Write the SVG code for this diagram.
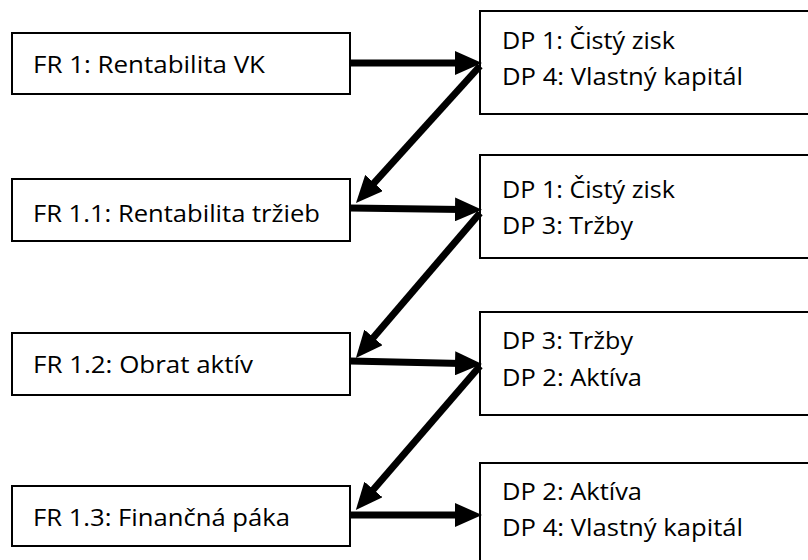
<svg xmlns="http://www.w3.org/2000/svg" width="808" height="560" viewBox="0 0 808 560">
  <style>
    .box { fill: #ffffff; stroke: #000000; stroke-width: 2; }
    .lbl { font-family: "Open Sans", "Lato", "Liberation Sans", sans-serif; font-size: 23px; fill: #000000; }
    .wire { stroke: #000000; stroke-width: 7; fill: none; marker-end: url(#head); }
  </style>
  <defs>
    <marker id="head" markerUnits="userSpaceOnUse" viewBox="0 0 27 24" markerWidth="27" markerHeight="24" refX="7" refY="12" orient="auto">
      <path d="M0,0 L27,12 L0,24 Z" fill="#000000"/>
    </marker>
  </defs>
  <rect width="808" height="560" fill="#ffffff"/>

  <!-- functional requirements (left column) -->
  <g id="fr1">
    <rect class="box" x="12" y="33" width="338" height="61"/>
    <text class="lbl" x="33" y="73" textLength="232" lengthAdjust="spacingAndGlyphs">FR 1: Rentabilita VK</text>
  </g>
  <g id="fr1-1">
    <rect class="box" x="12" y="179" width="338" height="62"/>
    <text class="lbl" x="33" y="222" textLength="287" lengthAdjust="spacingAndGlyphs">FR 1.1: Rentabilita tržieb</text>
  </g>
  <g id="fr1-2">
    <rect class="box" x="12" y="333" width="338" height="62"/>
    <text class="lbl" x="33" y="373" textLength="220" lengthAdjust="spacingAndGlyphs">FR 1.2: Obrat aktív</text>
  </g>
  <g id="fr1-3">
    <rect class="box" x="12" y="486" width="338" height="60"/>
    <text class="lbl" x="33" y="526" textLength="257" lengthAdjust="spacingAndGlyphs">FR 1.3: Finančná páka</text>
  </g>

  <!-- design parameters (right column) -->
  <g id="dp-a">
    <rect class="box" x="480" y="11" width="340" height="103"/>
    <text class="lbl" x="502" y="49" textLength="173" lengthAdjust="spacingAndGlyphs">DP 1: Čistý zisk</text>
    <text class="lbl" x="502" y="85" textLength="241" lengthAdjust="spacingAndGlyphs">DP 4: Vlastný kapitál</text>
  </g>
  <g id="dp-b">
    <rect class="box" x="480" y="155" width="340" height="103"/>
    <text class="lbl" x="502" y="198" textLength="173" lengthAdjust="spacingAndGlyphs">DP 1: Čistý zisk</text>
    <text class="lbl" x="502" y="234" textLength="131" lengthAdjust="spacingAndGlyphs">DP 3: Tržby</text>
  </g>
  <g id="dp-c">
    <rect class="box" x="480" y="312" width="340" height="103"/>
    <text class="lbl" x="502" y="349" textLength="131" lengthAdjust="spacingAndGlyphs">DP 3: Tržby</text>
    <text class="lbl" x="502" y="386" textLength="140" lengthAdjust="spacingAndGlyphs">DP 2: Aktíva</text>
  </g>
  <g id="dp-d">
    <rect class="box" x="480" y="463" width="340" height="110"/>
    <text class="lbl" x="502" y="500" textLength="140" lengthAdjust="spacingAndGlyphs">DP 2: Aktíva</text>
    <text class="lbl" x="502" y="536" textLength="241" lengthAdjust="spacingAndGlyphs">DP 4: Vlastný kapitál</text>
  </g>

  <!-- zig-zag connectors -->
  <g id="connectors">
    <line class="wire" x1="350" y1="63" x2="462" y2="63"/>
    <line class="wire" x1="480" y1="66" x2="369.4" y2="188.1"/>
    <line class="wire" x1="350" y1="208" x2="462" y2="209.5"/>
    <line class="wire" x1="480" y1="213" x2="368.9" y2="342.7"/>
    <line class="wire" x1="350" y1="361" x2="462" y2="363.5"/>
    <line class="wire" x1="480" y1="366" x2="368.9" y2="494.8"/>
    <line class="wire" x1="350" y1="515" x2="462" y2="515"/>
  </g>
</svg>
